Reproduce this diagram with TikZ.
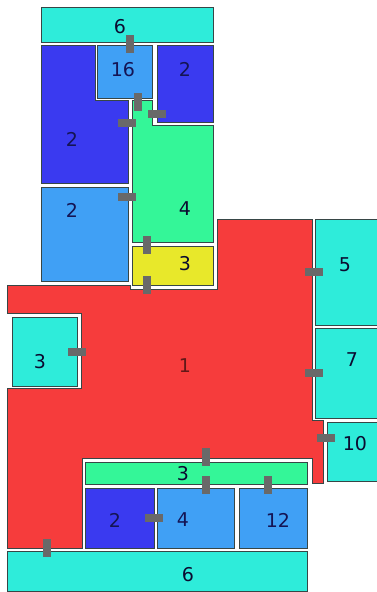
\documentclass[tikz,border=0pt]{standalone}
\usepackage{fontspec}
\setmainfont{DejaVu Sans}
\definecolor{roomcyan}{RGB}{46,236,218}
\definecolor{roomnavy}{RGB}{58,58,240}
\definecolor{roomsky}{RGB}{64,160,245}
\definecolor{roomgreen}{RGB}{52,246,152}
\definecolor{roomyellow}{RGB}{232,232,42}
\definecolor{roomred}{RGB}{246,60,60}
\definecolor{doorgray}{RGB}{105,105,105}
\definecolor{wallline}{RGB}{55,70,70}

\begin{document}
\begin{tikzpicture}[
    x=1pt, y=-1pt,
    font=\fontsize{19}{19}\selectfont,
    room/.style={draw=wallline, line width=0.8pt, preaction={draw=white, line width=3pt}},
    lbl/.style={inner sep=0pt, text=black!80!roomnavy},
    navylbl/.style={lbl, text=roomnavy!35!black},
    redlbl/.style={lbl, text=roomred!40!black},
    door/.style={fill=doorgray, inner sep=0pt, draw=none},
    vdoor/.style={door, minimum width=8pt, minimum height=18pt},
    hdoor/.style={door, minimum width=18pt, minimum height=8pt}
  ]
    \useasboundingbox (0,0) rectangle (377,592);
    % upper wing
    \draw[room, fill=roomcyan] (41,7) rectangle (213,42);
    \draw[room, fill=roomnavy] (41,45) -- (95,45) -- (95,100) -- (128,100) -- (128,183) -- (41,183) -- cycle;
    \draw[room, fill=roomsky] (97,45) rectangle (152,98);
    \draw[room, fill=roomnavy] (157,45) rectangle (213,122);
    \draw[room, fill=roomgreen] (132,100) -- (152,100) -- (152,125) -- (213,125) -- (213,242) -- (132,242) -- cycle;
    \draw[room, fill=roomsky] (41,187) rectangle (128,281);
    \draw[room, fill=roomyellow] (132,246) rectangle (213,285);
    % main hall
    \draw[room, fill=roomred] (7,285) -- (130,285) -- (130,289) -- (217,289) -- (217,219) -- (312,219)
      -- (312,420) -- (323,420) -- (323,483) -- (312,483) -- (312,458) -- (82,458) -- (82,548)
      -- (7,548) -- (7,388) -- (81,388) -- (81,313) -- (7,313) -- cycle;
    \draw[room, fill=roomcyan] (12,317) rectangle (77,386);
    % right side
    \draw[room, fill=roomcyan] (315,219) rectangle (380,325);
    \draw[room, fill=roomcyan] (315,328) rectangle (380,418);
    \draw[room, fill=roomcyan] (327,422) rectangle (380,481);
    % lower block
    \draw[room, fill=roomgreen] (85,462) rectangle (307,484);
    \draw[room, fill=roomnavy] (85,488) rectangle (154,548);
    \draw[room, fill=roomsky] (157,488) rectangle (234,548);
    \draw[room, fill=roomsky] (239,488) rectangle (307,548);
    \draw[room, fill=roomcyan] (7,551) rectangle (307,591);
    % labels
    \node[lbl] (top6) at (120,27) {6};
    \node[navylbl] (r16) at (123,70) {16};
    \node[navylbl] (rr2) at (185,69) {2};
    \node[navylbl] (bl2) at (72,139) {2};
    \node[navylbl] (sk2) at (72,210) {2};
    \node[lbl] (gr4) at (185,209) {4};
    \node[lbl] (ye3) at (185,264) {3};
    \node[redlbl] (hall) at (185,366) {1};
    \node[lbl] (cy3) at (40,362) {3};
    \node[lbl] (cy5) at (345,265) {5};
    \node[lbl] (cy7) at (352,360) {7};
    \node[lbl] (cy10) at (355,444) {10};
    \node[lbl] (gr3) at (183,474) {3};
    \node[navylbl] (lo2) at (115,520) {2};
    \node[navylbl] (lo4) at (183,520) {4};
    \node[navylbl] (lo12) at (278,520) {12};
    \node[lbl] (bot6) at (188,575) {6};
    % doors
    \node[vdoor] (d1) at (130,44) {};
    \node[vdoor] (d2) at (138,102) {};
    \node[hdoor] (d3) at (127,123) {};
    \node[hdoor] (d4) at (157,114) {};
    \node[hdoor] (d5) at (127,197) {};
    \node[vdoor] (d6) at (147,245) {};
    \node[vdoor] (d7) at (147,285) {};
    \node[hdoor] (d8) at (314,272) {};
    \node[hdoor] (d9) at (77,352) {};
    \node[hdoor] (d10) at (314,373) {};
    \node[hdoor] (d11) at (326,438) {};
    \node[vdoor] (d12) at (206,457) {};
    \node[vdoor] (d13) at (206,485) {};
    \node[vdoor] (d14) at (268,485) {};
    \node[hdoor] (d15) at (154,518) {};
    \node[vdoor] (d16) at (47,548) {};
  \end{tikzpicture}
\end{document}
